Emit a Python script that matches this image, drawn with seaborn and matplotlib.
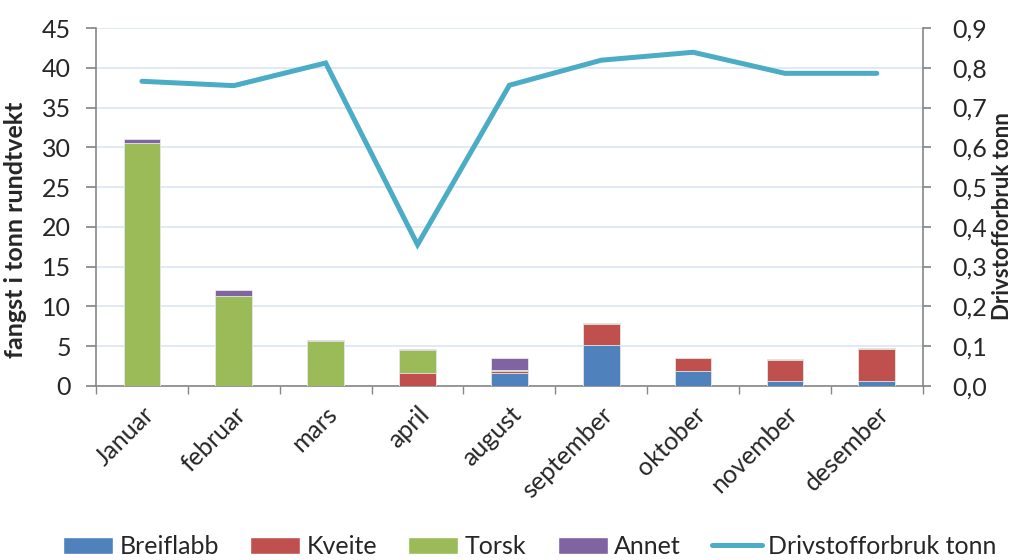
import numpy as np
import pandas as pd
import matplotlib
matplotlib.use("Agg")
import matplotlib.pyplot as plt
import seaborn as sns
from matplotlib.patches import Patch
from matplotlib.lines import Line2D
from matplotlib.ticker import FixedLocator

months = ["Januar", "februar", "mars", "april", "august", "september", "oktober", "november", "desember"]
breiflabb = [0.0, 0.0, 0.0, 0.0, 1.65, 5.1, 1.85, 0.6, 0.65]
kveite = [0.0, 0.0, 0.0, 1.6, 0.2, 2.65, 1.6, 2.65, 3.95]
torsk = [30.6, 11.3, 5.7, 2.85, 0.2, 0.15, 0.1, 0.1, 0.1]
annet = [0.5, 0.7, 0.1, 0.2, 1.4, 0.0, 0.0, 0.0, 0.0]
drivstoff = [0.766, 0.755, 0.812, 0.355, 0.756, 0.819, 0.839, 0.786, 0.786]

left_ticks = [0, 5, 10, 15, 20, 25, 30, 35, 40, 45]
right_ticks = [0.0, 0.1, 0.2, 0.3, 0.4, 0.5, 0.6, 0.7, 0.8, 0.9]
right_labels = ["0,0", "0,1", "0,2", "0,3", "0,4", "0,5", "0,6", "0,7", "0,8", "0,9"]

sns.set_theme(style="white")
plt.rcParams["font.family"] = ["Lato", "DejaVu Sans"]

C_B, C_K, C_T, C_A, C_L = "#4F81BD", "#C0504D", "#9BBB59", "#8064A2", "#4BACC6"
AX_C = "#868686"
GRID_C = "#DCE6F2"

fig = plt.figure(figsize=(10.15, 5.6), dpi=100)
ax = fig.add_axes([0.0946, 0.311, 0.9091 - 0.0946, 0.639])

df = pd.DataFrame({"m": months, "B": breiflabb, "K": kveite, "T": torsk, "A": annet})
df["BK"] = df["B"] + df["K"]
df["BKT"] = df["BK"] + df["T"]
df["ALL"] = df["BKT"] + df["A"]

layers = [("ALL", C_A), ("BKT", C_T), ("BK", C_K), ("B", C_B)]
for col, c in layers:
    sns.barplot(data=df, x="m", y=col, order=months, color=c, saturation=1,
                width=0.4, edgecolor="#E8E8E8", linewidth=0.6, ax=ax, zorder=3)

ax.set_xlim(-0.5, len(months) - 0.5)
ax.set_ylim(0, 45)
ax.yaxis.set_major_locator(FixedLocator(left_ticks))
ax.set_yticklabels([str(t) for t in left_ticks])
ax.grid(axis="y", color=GRID_C, linewidth=1.2, zorder=0)
ax.set_axisbelow(True)
ax.set_xlabel("")
ax.set_ylabel("fangst i tonn rundtvekt", fontsize=18, fontweight="bold")
ax.yaxis.set_label_coords(-0.083, 0.436)

for s in ["left", "bottom", "right"]:
    ax.spines[s].set_color(AX_C)
    ax.spines[s].set_linewidth(1.2)
ax.spines["top"].set_visible(False)

ax.tick_params(axis="y", which="major", direction="out", length=7, color=AX_C,
               labelsize=18, left=True, pad=11)
ax.set_xticks(np.arange(len(months)))
ax.set_xticklabels(months, rotation=45, ha="right", rotation_mode="anchor", fontsize=18)
ax.set_xticks(np.arange(len(months) + 1) - 0.5, minor=True)
ax.tick_params(axis="x", which="major", length=0, pad=12)
ax.tick_params(axis="x", which="minor", direction="out", length=6, color=AX_C, bottom=True)

ax2 = ax.twinx()
sns.lineplot(x=np.arange(len(months)), y=drivstoff, color=C_L, linewidth=3.6,
             ax=ax2, sort=False, solid_capstyle="round", solid_joinstyle="miter")
ax2.set_ylim(0, 0.9)
ax2.yaxis.set_major_locator(FixedLocator(right_ticks))
ax2.set_yticklabels(right_labels)
ax2.set_ylabel("Drivstofforbruk tonn", fontsize=16, fontweight="bold")
ax2.yaxis.set_label_coords(1.0835, 0.475)
ax2.tick_params(axis="y", direction="out", length=6, color=AX_C, labelsize=18, right=True, pad=15)
for s in ["left", "bottom", "right", "top"]:
    ax2.spines[s].set_visible(False)
ax2.grid(False)

handles = [Patch(facecolor=C_B, label="Breiflabb"),
           Patch(facecolor=C_K, label="Kveite"),
           Patch(facecolor=C_T, label="Torsk"),
           Patch(facecolor=C_A, label="Annet"),
           Line2D([0], [0], color=C_L, linewidth=3.6, solid_capstyle="round", label="Drivstofforbruk tonn")]
fig.legend(handles=handles, loc="center", bbox_to_anchor=(0.522, 0.024), ncol=5,
           frameon=False, fontsize=18, handlelength=2.0, handleheight=0.65,
           columnspacing=1.25, handletextpad=0.25)

fig.savefig("out.png", dpi=100)
